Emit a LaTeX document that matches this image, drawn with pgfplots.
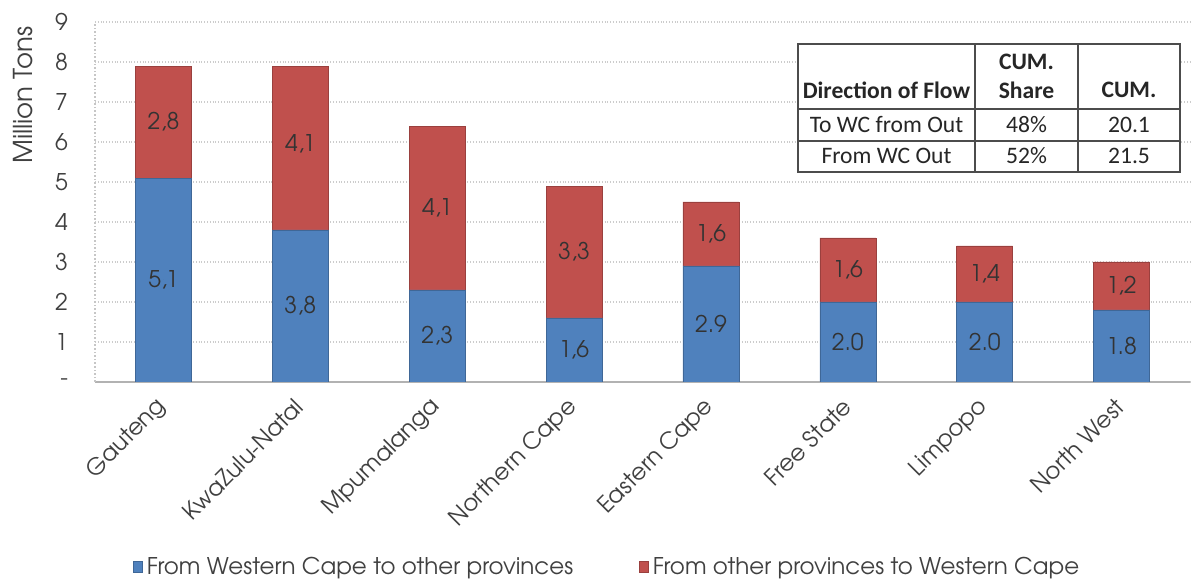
\documentclass[border=0pt]{standalone}
\usepackage{pgfplots}
\pgfplotsset{compat=1.18}
\usepackage{pgfplotstable}
\usepackage{fontspec}
\setmainfont{TeX Gyre Adventor}
\newfontfamily\calibri{Carlito}
\definecolor{wcblue}{HTML}{4F81BD}
\definecolor{wcred}{HTML}{C0504D}
\definecolor{txt}{HTML}{404040}
\newcommand\f{\fontsize{11.5}{13}\selectfont}

\pgfplotstableread{
x blue red
0 5.1 2.8
1 3.8 4.1
2 2.3 4.1
3 1.6 3.3
4 2.9 1.6
5 2.0 1.6
6 2.0 1.4
7 1.8 1.2
}\datatable

\pgfplotstableread{
x y label
0 2.55 5,1
1 1.90 3,8
2 1.15 2,3
3 0.80 1,6
4 1.45 2.9
5 1.00 2.0
6 1.00 2.0
7 0.90 1.8
0 6.50 2,8
1 5.95 4,1
2 4.35 4,1
3 3.25 3,3
4 3.70 1,6
5 2.80 1,6
6 2.70 1,4
7 2.40 1,2
}\labeltable

\begin{document}
\begin{tikzpicture}
\useasboundingbox (-47.5pt,-100.5pt) rectangle (548pt,191pt);
\begin{axis}[
  scale only axis, width=547.5pt, height=180pt,
  ybar stacked, bar width=28pt,
  xmin=-0.5, xmax=7.5, ymin=0, ymax=9,
  xtick=data,
  xticklabels={Gauteng, KwaZulu-Natal, Mpumalanga, Northern Cape, Eastern Cape, Free State, Limpopo, North West},
  ytick={0,1,...,9},
  yticklabels={-\hspace{14pt},1,2,3,4,5,6,7,8,9},
  major tick length=0pt,
  /pgf/number format/assume math mode=true,
  ticklabel style={font=\f, text=txt},
  yticklabel style={xshift=-10pt},
  xticklabel style={xshift=2pt, yshift=-8pt, rotate=45, anchor=east},
  axis lines*=left,
  x axis line style={gray!60, line width=0.8pt},
  y axis line style={gray!45, densely dotted, line width=0.8pt},
  ymajorgrids, major grid style={gray!40, densely dotted, line width=0.8pt},
  legend columns=2,
  legend style={draw=none, fill=none, font=\f, text=txt,
    at={(rel axis cs:0.029,-0.514)}, anchor=west,
    /tikz/every even column/.append style={column sep=31pt}},
  legend image code/.code={\fill[#1] (0pt,-2.7pt) rectangle (4.5pt,2.7pt);},
]
\addplot[fill=wcblue, draw=wcblue!80!black, line width=0.3pt] table[x=x, y=blue] {\datatable};
\addlegendentry{From Western Cape to other provinces}
\addplot[fill=wcred, draw=wcred!80!black, line width=0.3pt] table[x=x, y=red] {\datatable};
\addlegendentry{From other provinces to Western Cape}
\end{axis}
\begin{axis}[
  scale only axis, width=547.5pt, height=180pt,
  xmin=-0.5, xmax=7.5, ymin=0, ymax=9, hide axis,
]
\addplot[only marks, mark=*, mark size=0pt, mark options={draw=none, fill=none},
  nodes near coords, point meta=explicit symbolic,
  every node near coord/.append style={anchor=center, font=\f, text=black!80}]
  table[x=x, y=y, meta=label] {\labeltable};
\end{axis}
% y label
\node[rotate=90, font=\fontsize{13}{15}\selectfont, text=txt] at (-36pt,143.5pt) {Million Tons};
% table
\begin{scope}[line width=0.9pt, draw=gray!60!black]
\fill[white] (351.5pt,105pt) rectangle (542.5pt,169pt);
\draw (351.5pt,105pt) rectangle (542.5pt,169pt);
\draw (440pt,105pt) -- (440pt,169pt);
\draw (491.5pt,105pt) -- (491.5pt,169pt);
\draw (351.5pt,136.5pt) -- (542.5pt,136.5pt);
\draw (351.5pt,120.5pt) -- (542.5pt,120.5pt);
\end{scope}
\begin{scope}[every node/.style={font=\calibri\fontsize{11.8}{13}\selectfont, text=black!85, inner sep=0pt}]
\node[font=\calibri\bfseries\fontsize{11.8}{13}\selectfont] at (395.75pt,146pt) {Direction of Flow};
\node[font=\calibri\bfseries\fontsize{11.8}{13}\selectfont] at (465.75pt,160pt) {CUM.};
\node[font=\calibri\bfseries\fontsize{11.8}{13}\selectfont] at (465.75pt,146pt) {Share};
\node[font=\calibri\bfseries\fontsize{11.8}{13}\selectfont] at (517pt,146pt) {CUM.};
\node at (395.75pt,128.5pt) {To WC from Out};
\node at (465.75pt,128.5pt) {48\%};
\node at (517pt,128.5pt) {20.1};
\node at (395.75pt,113pt) {From WC Out};
\node at (465.75pt,113pt) {52\%};
\node at (517pt,113pt) {21.5};
\end{scope}
\end{tikzpicture}
\end{document}
